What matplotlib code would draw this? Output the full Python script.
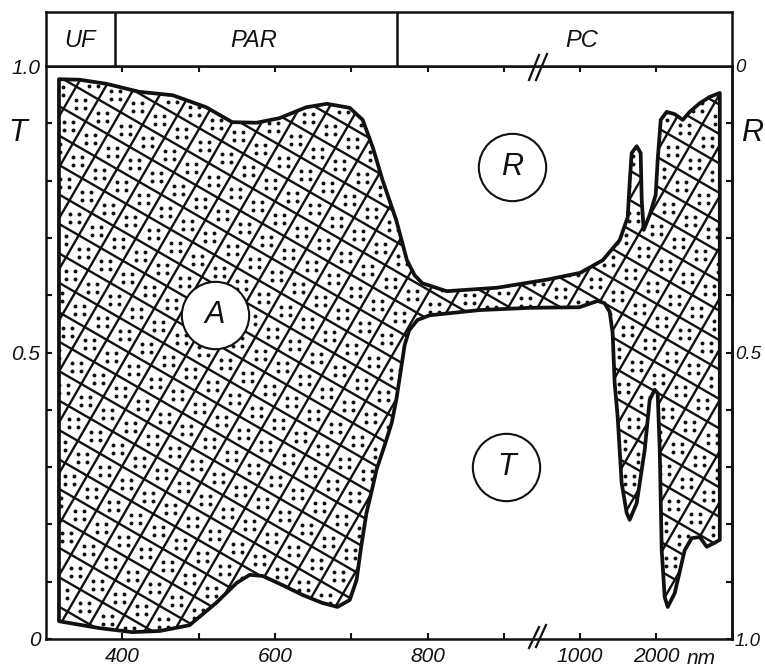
import numpy as np
import matplotlib
matplotlib.use("Agg")
import matplotlib.pyplot as plt
from matplotlib.collections import LineCollection
from matplotlib.lines import Line2D

# ---------------- data ----------------
# upper boundary of the shaded region: T + A = 1 - R
upper_nm = [317, 344, 379, 422, 466, 510, 544, 576, 606, 641, 668, 698, 715, 728,
            741, 759, 773, 783, 793, 825, 891, 956, 1000, 1295, 1518, 1623, 1649,
            1675, 1741, 1793, 1807, 1833, 1911, 1990, 2016, 2056, 2134, 2239, 2344,
            2436, 2567, 2698, 2830]
upper_val = [0.977, 0.976, 0.969, 0.955, 0.949, 0.928, 0.902, 0.901, 0.909, 0.928,
             0.934, 0.927, 0.906, 0.859, 0.801, 0.731, 0.661, 0.635, 0.621, 0.607,
             0.613, 0.627, 0.639, 0.661, 0.696, 0.736, 0.796, 0.848, 0.860, 0.848,
             0.766, 0.714, 0.740, 0.775, 0.836, 0.906, 0.920, 0.916, 0.906, 0.920,
             0.935, 0.946, 0.953]
# lower boundary: transmittance T
lower_nm = [317, 370, 413, 449, 488, 523, 550, 567, 584, 610, 636, 662, 682, 698,
            707, 713, 720, 728, 733, 744, 753, 759, 765, 770, 776, 787, 803, 868,
            934, 999, 1230, 1321, 1387, 1426, 1452, 1492, 1544, 1610, 1649, 1741,
            1846, 1911, 1977, 2016, 2043, 2069, 2108, 2148, 2239, 2370, 2462, 2567,
            2659, 2764, 2830]
lower_val = [0.031, 0.019, 0.012, 0.014, 0.024, 0.063, 0.098, 0.112, 0.110, 0.094,
             0.077, 0.063, 0.056, 0.068, 0.103, 0.161, 0.220, 0.265, 0.295, 0.339,
             0.377, 0.417, 0.469, 0.513, 0.539, 0.557, 0.565, 0.574, 0.578, 0.579,
             0.590, 0.586, 0.571, 0.534, 0.447, 0.387, 0.272, 0.220, 0.208, 0.237,
             0.330, 0.417, 0.435, 0.429, 0.330, 0.155, 0.073, 0.056, 0.080, 0.155,
             0.176, 0.178, 0.161, 0.168, 0.173]

x_ticks = [400, 500, 600, 700, 800, 900, 1000, 2000]
x_tick_labels = ["400", "", "600", "", "800", "", "1000", "2000"]
t_ticks = [0, 0.5, 1.0]
t_tick_labels = ["0", "0.5", "1.0"]
r_ticks = [0, 0.5, 1.0]
r_tick_labels = ["0", "0.5", "1.0"]
band_edges = [390, 760]
band_labels = ["UF", "PAR", "PC"]

# ---------------- style ----------------
FONT = "Liberation Sans"
plt.rcParams["font.family"] = [FONT, "DejaVu Sans"]
plt.rcParams["font.style"] = "italic"
INK = "#111111"


def fwd(x):
    x = np.asarray(x, dtype=float)
    return np.where(x <= 1000, x, 1000 + (x - 1000) / 10.0)


def inv(u):
    u = np.asarray(u, dtype=float)
    return np.where(u <= 1000, u, 1000 + (u - 1000) * 10.0)


W_PX, H_PX = 765, 670
fig = plt.figure(figsize=(W_PX / 100, H_PX / 100), dpi=100)
ax_l, ax_r, ax_t, ax_b = 46, 732, 66, 639
ax = fig.add_axes([ax_l / W_PX, 1 - ax_b / H_PX, (ax_r - ax_l) / W_PX, (ax_b - ax_t) / H_PX])
band = fig.add_axes([ax_l / W_PX, 1 - ax_t / H_PX, (ax_r - ax_l) / W_PX, (ax_t - 12) / H_PX],
                    sharex=ax)

ax.set_xscale("function", functions=(fwd, inv))
ax.set_xlim(300, 2990)
ax.set_ylim(0, 1)

for a in (ax, band):
    for sp in a.spines.values():
        sp.set_linewidth(1.8)
        sp.set_color(INK)

# ---------------- shaded region ----------------
poly_x = list(upper_nm) + list(lower_nm[::-1])
poly_y = list(upper_val) + list(lower_val[::-1])
region = ax.fill(poly_x, poly_y, facecolor="white", edgecolor="none", zorder=1)[0]

# cross-hatch grid (display-space, rotated ~30 deg)
Wp, Hp = ax_r - ax_l, ax_b - ax_t
s = 25.5
ang = np.deg2rad(30)
n1 = np.array([np.sin(ang), np.cos(ang)])
n2 = np.array([np.cos(ang), -np.sin(ang)])
d1 = np.array([n1[1], -n1[0]])
d2 = np.array([-n2[1], n2[0]])
corners = np.array([[0, 0], [Wp, 0], [0, Hp], [Wp, Hp]])
segs = []
off = [9.0, 5.0]
for n, d, o in ((n1, d1, off[0]), (n2, d2, off[1])):
    pr = corners @ n
    for k in range(int(np.floor(pr.min() / s)) - 1, int(np.ceil(pr.max() / s)) + 2):
        c = (k * s + o) * n
        p0 = c - 1500 * d
        p1 = c + 1500 * d
        segs.append([(p0[0] / Wp, p0[1] / Hp), (p1[0] / Wp, p1[1] / Hp)])
lc = LineCollection(segs, colors=INK, linewidths=1.7, transform=ax.transAxes, zorder=2)
lc.set_clip_path(region)
ax.add_collection(lc, autolim=False)

# dots, 4 per cell
dx, dy = [], []
pr1 = corners @ n1
pr2 = corners @ n2
for i in range(int(pr1.min() // s) - 1, int(pr1.max() // s) + 2):
    for j in range(int(pr2.min() // s) - 1, int(pr2.max() // s) + 2):
        c = (i * s + off[0] + s / 2) * n1 + (j * s + off[1] + s / 2) * n2
        for ox, oy in ((-4.5, -4), (4.5, -4), (-4.5, 4), (4.5, 4)):
            dx.append((c[0] + ox) / Wp)
            dy.append((c[1] + oy) / Hp)
dots = ax.scatter(dx, dy, s=8, c=INK, linewidths=0, transform=ax.transAxes, zorder=2)
dots.set_clip_path(region)

ax.fill(poly_x, poly_y, facecolor="none", edgecolor=INK, linewidth=2.7,
        joinstyle="round", zorder=4)

# ---------------- circled labels ----------------
for lab, fx, fy in (("R", 0.679, 0.824), ("T", 0.671, 0.300), ("A", 0.246, 0.565)):
    ax.scatter([fx], [fy], s=2350, marker="o", facecolor="white", edgecolor=INK,
               linewidths=1.5, transform=ax.transAxes, zorder=5)
    ax.text(fx, fy, lab, transform=ax.transAxes, ha="center", va="center",
            fontsize=22, fontstyle="italic", color=INK, zorder=6)

# ---------------- ticks ----------------
ax.set_xticks(x_ticks)
ax.set_xticklabels(x_tick_labels)
ax.xaxis.set_minor_locator(matplotlib.ticker.NullLocator())
ax.set_yticks(t_ticks)
ax.set_yticklabels(t_tick_labels)
ax.set_yticks(np.arange(0.1, 1.0, 0.1), minor=True)
ax.tick_params(which="both", direction="in", length=4.5, width=1.5, color=INK,
               top=True, right=True, labelsize=15, labelcolor=INK)
ax.tick_params(axis="x", pad=6)
ax.tick_params(axis="y", pad=4)

sec = ax.secondary_yaxis("right", functions=(lambda y: 1 - y, lambda r: 1 - r))
sec.set_yticks(r_ticks)
sec.set_yticklabels(r_tick_labels)
sec.tick_params(length=0, pad=2, labelsize=13.5, labelcolor=INK)
sec.spines["right"].set_linewidth(1.8)

for lbl in ax.get_xticklabels() + ax.get_yticklabels() + sec.get_yticklabels():
    lbl.set_fontstyle("italic")

fig.text(701 / W_PX, 1 - 658 / H_PX, "nm", ha="center", va="center", fontsize=15,
         fontstyle="italic", color=INK)
fig.text(18 / W_PX, 1 - 133 / H_PX, "T", ha="center", va="center", fontsize=22,
         fontstyle="italic", color=INK)
fig.text(752 / W_PX, 1 - 133 / H_PX, "R", ha="center", va="center", fontsize=22,
         fontstyle="italic", color=INK)

# ---------------- spectral band strip ----------------
band.set_ylim(0, 1)
band.tick_params(which="both", length=0, labelbottom=False, labelleft=False,
                 bottom=False, left=False, top=False)
for e in band_edges:
    band.axvline(e, color=INK, linewidth=1.8)
for lab, fx in zip(band_labels, (0.0496, 0.303, 0.781)):
    band.text(fx, 0.47, lab, transform=band.transAxes, ha="center", va="center",
              fontsize=17, fontstyle="italic", color=INK)

# ---------------- axis break marks ----------------
for (x0, y0, x1, y1) in ((529, 648, 539, 627), (536, 647, 546, 625),
                         (529, 80, 539, 55), (536, 80, 547, 54)):
    fig.add_artist(Line2D([x0 / W_PX, x1 / W_PX], [1 - y0 / H_PX, 1 - y1 / H_PX],
                          color=INK, linewidth=1.6))

fig.savefig("out.png", dpi=100, facecolor="white")
